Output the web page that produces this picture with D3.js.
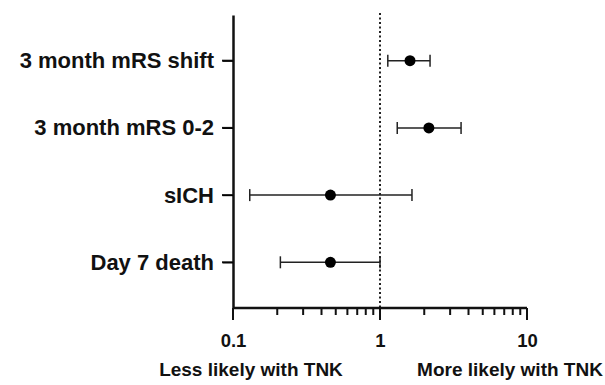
<!DOCTYPE html>
<html><head><meta charset="utf-8">
<script src="https://cdn.jsdelivr.net/npm/d3@7"></script>
<style>
body{margin:0;background:#fff;}
svg{display:block;}
text{font-family:"Liberation Sans",Arial,sans-serif;font-weight:bold;fill:#111;}
</style></head>
<body><svg id="c" width="605" height="385"></svg>
<script>
const categories = ["3 month mRS shift","3 month mRS 0-2","sICH","Day 7 death"];
const estimates = [1.60, 2.15, 0.46, 0.46];
const lowerCI = [1.13, 1.31, 0.13, 0.21];
const upperCI = [2.19, 3.56, 1.65, 1.0];
const xTicks = [0.1, 1, 10];
const xTickLabels = ["0.1","1","10"];
const directionLabels = ["Less likely with TNK","More likely with TNK"];

const svg = d3.select("#c");
const x = d3.scaleLog().domain([0.1,10]).range([233,527]);
const y = d3.scalePoint().domain(categories).range([15,308]).padding(0.68);
const axisY = 308;

// reference line at 1
svg.append("line").attr("x1",x(1)).attr("x2",x(1)).attr("y1",13).attr("y2",axisY)
  .attr("stroke","#222").attr("stroke-width",2).attr("stroke-dasharray","2,2.5");

// x axis (labels + domain from d3 axis)
const gx = svg.append("g").attr("transform","translate(0,"+axisY+")");
gx.call(d3.axisBottom(x).tickValues(xTicks).tickSize(12).tickSizeOuter(0)
  .tickFormat((d,i)=>xTickLabels[i]).tickPadding(14));
gx.select(".domain").attr("stroke","#111").attr("stroke-width",2.5).attr("d","M"+x(0.1)+",0H"+x(10));
gx.selectAll(".tick text").attr("font-size",18.5).attr("font-family","Liberation Sans").attr("font-weight","bold").attr("fill","#111");

// explicit tick marks
const minor = [];
[0.1,1].forEach(d=>{ for (let k=2;k<=9;k++) minor.push(+(d*k).toPrecision(2)); });
const tickG = svg.append("g");
minor.forEach(d=>{
  tickG.append("rect").attr("x",x(d)-1).attr("y",axisY).attr("width",2).attr("height",7).attr("fill","#111");
});
xTicks.forEach(d=>{
  tickG.append("rect").attr("x",x(d)-1).attr("y",axisY).attr("width",2).attr("height",12).attr("fill","#111");
});

// y axis
const gy = svg.append("g").attr("transform","translate(233,0)");
gy.call(d3.axisLeft(y).tickSize(10).tickSizeOuter(0).tickPadding(9));
gy.select(".domain").attr("stroke","#111").attr("stroke-width",2.5);
gy.selectAll(".tick text").attr("font-size",22).attr("font-family","Liberation Sans").attr("font-weight","bold").attr("fill","#111");
categories.forEach(d=>{
  tickG.append("rect").attr("x",222).attr("y",y(d)-1).attr("width",11).attr("height",2).attr("fill","#111");
});

// error bars
const rows = categories.map((c,i)=>({c, est:estimates[i], lo:lowerCI[i], hi:upperCI[i]}));
const g = svg.append("g");
g.selectAll(".ci").data(rows).join("line")
  .attr("x1",d=>x(d.lo)).attr("x2",d=>x(d.hi)).attr("y1",d=>y(d.c)).attr("y2",d=>y(d.c))
  .attr("stroke","#222").attr("stroke-width",1.5);
g.selectAll(".capl").data(rows).join("line")
  .attr("x1",d=>x(d.lo)).attr("x2",d=>x(d.lo)).attr("y1",d=>y(d.c)-6).attr("y2",d=>y(d.c)+6)
  .attr("stroke","#222").attr("stroke-width",1.5);
g.selectAll(".capr").data(rows).join("line")
  .attr("x1",d=>x(d.hi)).attr("x2",d=>x(d.hi)).attr("y1",d=>y(d.c)-6).attr("y2",d=>y(d.c)+6)
  .attr("stroke","#222").attr("stroke-width",1.5);
g.selectAll("circle").data(rows).join("circle")
  .attr("cx",d=>x(d.est)).attr("cy",d=>y(d.c)).attr("r",5.5).attr("fill","#000");

// direction labels
svg.append("text").attr("x",251).attr("y",376).attr("text-anchor","middle").attr("font-size",19).text(directionLabels[0]);
svg.append("text").attr("x",510).attr("y",376).attr("text-anchor","middle").attr("font-size",19).text(directionLabels[1]);
</script></body></html>
